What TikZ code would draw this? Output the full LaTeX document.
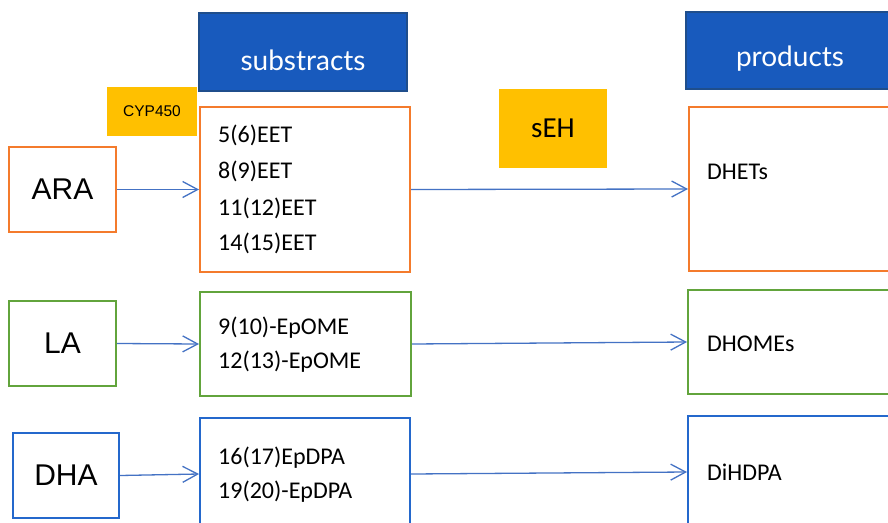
\documentclass[tikz,border=0pt]{standalone}
\usepackage{fontspec}
\setmainfont{Carlito}
\newfontfamily\arialfont{Liberation Sans}
\newfontfamily\headfont{Lato}
\usetikzlibrary{arrows.meta}
\definecolor{hdrfill}{HTML}{185ABD}
\definecolor{hdrline}{HTML}{1F4E8C}
\definecolor{enzfill}{HTML}{FFC000}
\definecolor{araline}{HTML}{F47B2C}
\definecolor{laline}{HTML}{62A43C}
\definecolor{dhaline}{HTML}{2468CC}
\definecolor{arrcol}{HTML}{4472C4}
\tikzset{
  box/.style={draw, line width=2pt, fill=white, minimum width=#1, inner sep=0pt},
  header/.style={fill=hdrfill, draw=hdrline, line width=1.5pt, inner sep=0pt},
  headtext/.style={text=white, inner sep=0pt, font=\headfont\fontsize{28}{32}\selectfont},
  enzyme/.style={fill=enzfill, inner sep=0pt},
  acid/.style={font=\arialfont\fontsize{30}{34}\selectfont},
  item/.style={anchor=west, inner sep=0pt, font=\fontsize{24}{28}\selectfont},
  arr/.style={draw=arrcol, line width=1.3pt,
    -{Straight Barb[length=15pt,width=16pt,line width=1.3pt]}}
}
\begin{document}
\begin{tikzpicture}[x=1pt,y=-1pt]
\useasboundingbox (0,0) rectangle (888,522);
\clip (0,0) rectangle (888,522);
\fill[white] (0,0) rectangle (888,522);

% column headers
\node[header, minimum width=208pt, minimum height=78pt] (subs) at (303,52) {};
\node[headtext] (substxt) at (303,60) {substracts};
\node[header, minimum width=210pt, minimum height=77pt] (prod) at (791,50.5) {};
\node[headtext] (prodtxt) at (790,59) {products};

% enzymes
\node[enzyme, minimum width=90pt, minimum height=49pt,
  font=\arialfont\fontsize{15.5}{17}\selectfont] (cyp) at (152,111.5) {CYP450};
\node[enzyme, minimum width=108pt, minimum height=79pt,
  font=\fontsize{29}{32}\selectfont] (seh) at (553,128) {sEH};

% ARA row
\node[box=107pt, draw=araline, minimum height=85pt, acid] (ara) at (62.5,189.5) {ARA};
\node[box=210pt, draw=araline, minimum height=165pt] (eet) at (305,189.5) {};
\node[box=208pt, draw=araline, minimum height=164pt] (dhets) at (793,189) {};
\node[item] (e1) at (218,135) {5(6)EET};
\node[item] (e2) at (218,171) {8(9)EET};
\node[item] (e3) at (218,208) {11(12)EET};
\node[item] (e4) at (218,243) {14(15)EET};
\node[item] (p1) at (707,172) {DHETs};

% LA row
\node[box=107pt, draw=laline, minimum height=85pt, acid] (la) at (62.5,343.5) {LA};
\node[box=211pt, draw=laline, minimum height=104pt] (epome) at (305.5,344) {};
\node[box=208pt, draw=laline, minimum height=104pt] (dhomes) at (792,342) {};
\node[item] (o1) at (218,328) {9(10)-EpOME};
\node[item] (o2) at (218,362) {12(13)-EpOME};
\node[item] (p2) at (707,344) {DHOMEs};

% DHA row
\node[box=106pt, draw=dhaline, minimum height=85pt, acid] (dha) at (66,475.5) {DHA};
\node[box=210pt, draw=dhaline, minimum height=112pt] (epdpa) at (305,474) {};
\node[box=208pt, draw=dhaline, minimum height=112pt] (dihdpa) at (792,472) {};
\node[item] (d1) at (218,458) {16(17)EpDPA};
\node[item] (d2) at (218,492) {19(20)-EpDPA};
\node[item] (p3) at (707,472) {DiHDPA};

% conversions
\draw[arr] (ara.east) -- (eet.west);
\draw[arr] (eet.east) -- (dhets.west);
\draw[arr] (la.east) -- (epome.west);
\draw[arr] (epome.east) -- (dhomes.west);
\draw[arr] (dha.east) -- (epdpa.west);
\draw[arr] (epdpa.east) -- (dihdpa.west);
\end{tikzpicture}
\end{document}
